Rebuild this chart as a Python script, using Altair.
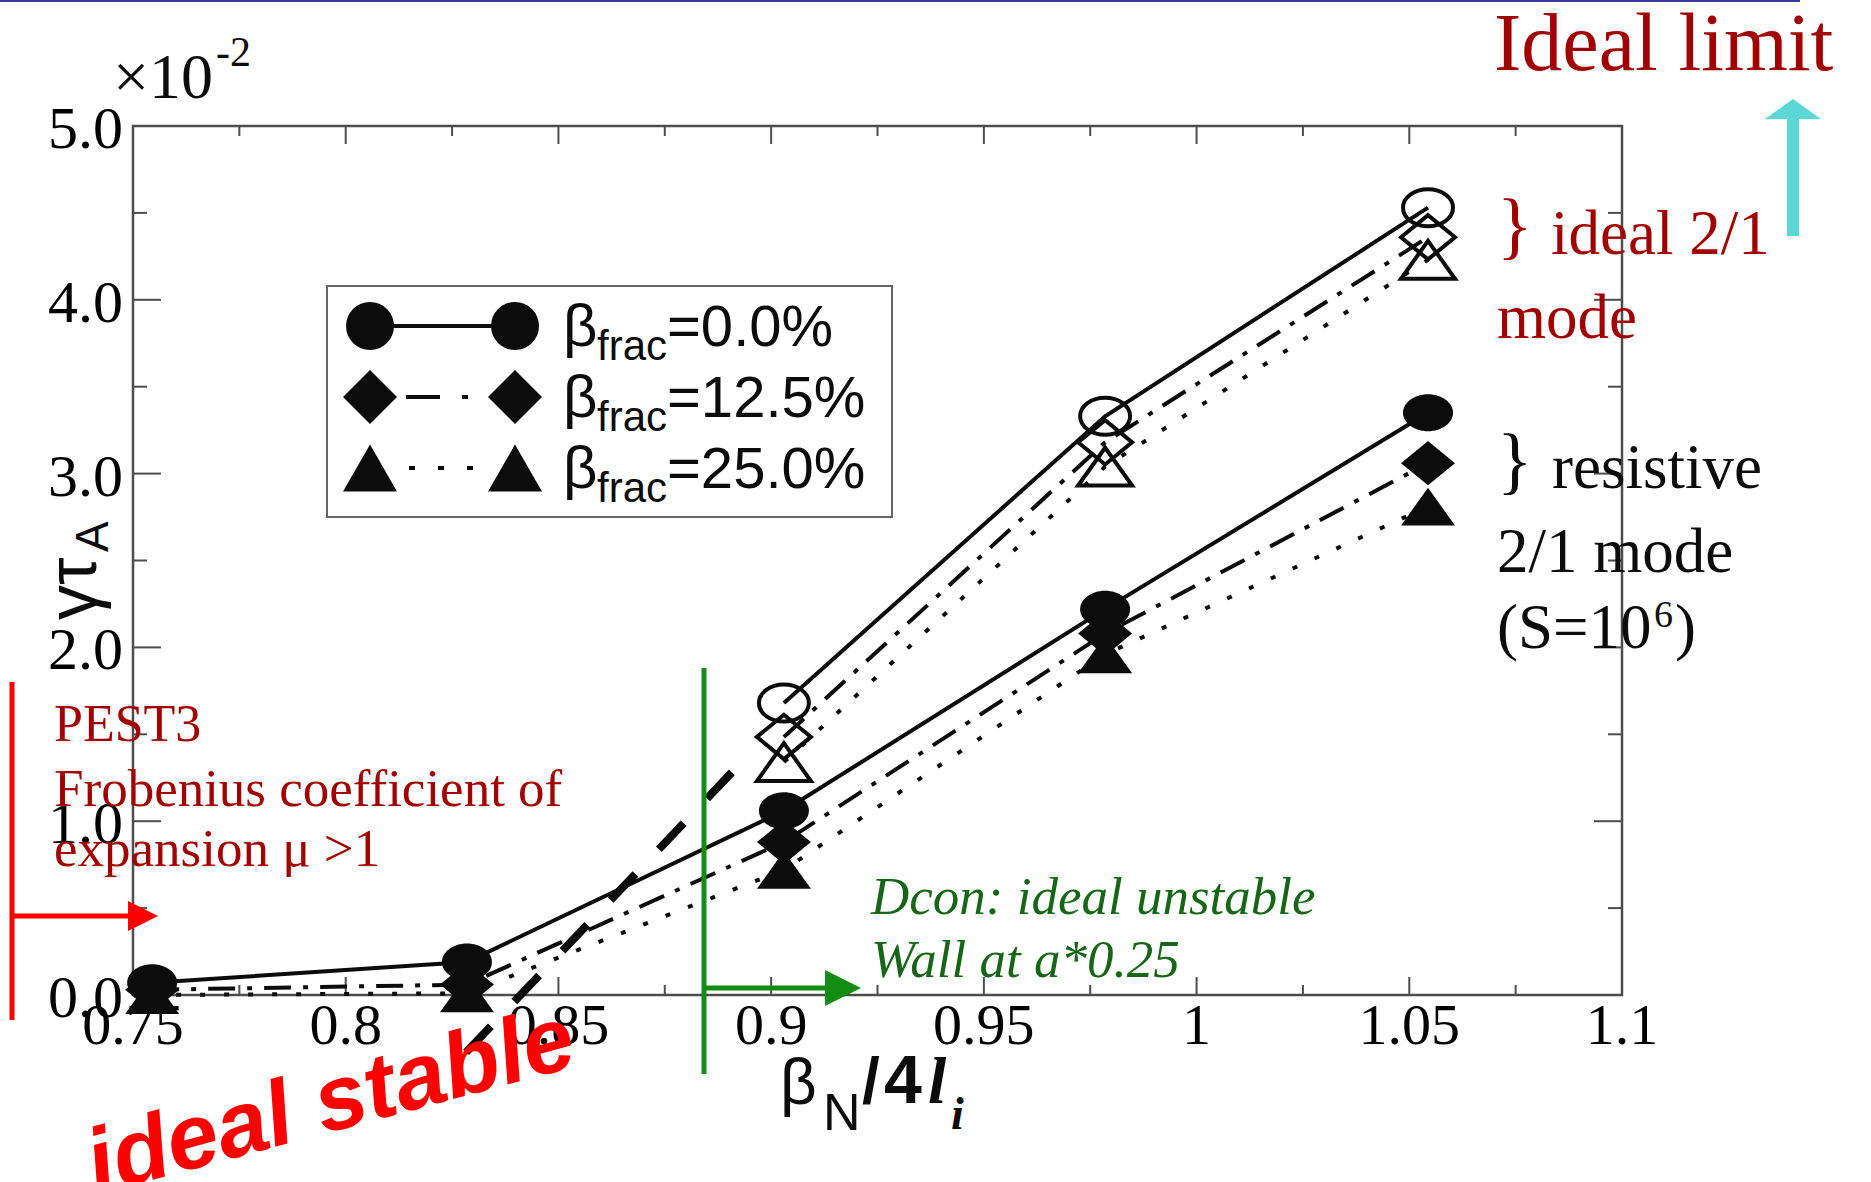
import altair as alt
import pandas as pd

# ---------------------------------------------------------------------------
# Growth rate gamma*tau_A (units of 1e-2) versus beta_N / 4 l_i
# ---------------------------------------------------------------------------
FRACTIONS = ["0.0%", "12.5%", "25.0%"]

# resistive 2/1 mode (S = 1e6), filled symbols
BETA_RESISTIVE = [0.7545, 0.8285, 0.903, 0.9785, 1.0544]
RESISTIVE_00 = [0.07, 0.19, 1.06, 2.22, 3.35]
RESISTIVE_125 = [0.03, 0.06, 0.88, 2.08, 3.06]
RESISTIVE_25 = [0.00, 0.01, 0.72, 1.96, 2.81]

# ideal 2/1 mode, open symbols
BETA_IDEAL = [0.903, 0.9785, 1.0544]
IDEAL_00 = [1.68, 3.33, 4.53]
IDEAL_125 = [1.485, 3.18, 4.36]
IDEAL_25 = [1.34, 3.04, 4.23]

# extrapolation of the ideal growth rate towards marginal stability
EXTRAP_BETA = [0.8283, 0.8915]
EXTRAP_GAMMA = [-0.33, 1.30]

X_MAJOR = [0.75, 0.8, 0.85, 0.9, 0.95, 1.0, 1.05, 1.1]
X_MINOR = [0.775, 0.825, 0.875, 0.925, 0.975, 1.025, 1.075]
Y_MAJOR = [0, 1, 2, 3, 4, 5]
Y_MINOR = [0.5, 1.5, 2.5, 3.5, 4.5]

# ---------------------------------------------------------------------------
# layout and style
# ---------------------------------------------------------------------------
W, H = 1489, 869          # plot area
OX, OY = 133, 126         # plot origin on the page
SERIF = "Liberation Serif"
SANS = "Liberation Sans"
INK = "#0b0c0b"
FRAME = "#4d4d4d"
DARK_RED = "#a00000"

XS = alt.Scale(domain=[0.75, 1.1], nice=False, zero=False)
YS = alt.Scale(domain=[0, 5], nice=False, zero=False)

ELLIPSE = ("M1,0C1,0.409 0.552,0.74 0,0.74C-0.552,0.74 -1,0.409 -1,0"
           "C-1,-0.409 -0.552,-0.74 0,-0.74C0.552,-0.74 1,-0.409 1,0Z")
DIAMOND = "M-1,0L0,-0.82L1,0L0,0.82Z"
TRIANGLE = "M0,-0.7L1,0.7L-1,0.7Z"
ARROW_RIGHT = "M-1,-1L1,0L-1,1Z"
ARROW_UP = "M0,-0.36L1,0.36L-1,0.36Z"

STYLE = {
    "0.0%": dict(dash=None, shape=ELLIPSE, size=2500, legend_shape="circle", legend_size=2304),
    "12.5%": dict(dash=[27, 12, 5, 12], shape=DIAMOND, size=2916, legend_shape="diamond", legend_size=2916),
    "25.0%": dict(dash=[5, 19], shape=TRIANGLE, size=2916, legend_shape="triangle-up", legend_size=2916),
}

RESISTIVE = dict(zip(FRACTIONS, [RESISTIVE_00, RESISTIVE_125, RESISTIVE_25]))
IDEAL = dict(zip(FRACTIONS, [IDEAL_00, IDEAL_125, IDEAL_25]))

ONE = pd.DataFrame({"k": [0]})


def qx(field):
    return alt.X(f"{field}:Q", scale=XS, axis=None)


def qy(field):
    return alt.Y(f"{field}:Q", scale=YS, axis=None)


def series_line(xs, ys, dash, width=4):
    d = pd.DataFrame({"beta": xs, "gamma": ys})
    kw = dict(color=INK, strokeWidth=width, clip=False)
    if dash:
        kw["strokeDash"] = dash
    return alt.Chart(d).mark_line(**kw).encode(x=qx("beta"), y=qy("gamma"))


def series_points(xs, ys, shape, size, filled):
    d = pd.DataFrame({"beta": xs, "gamma": ys})
    kw = dict(shape=shape, size=size, filled=filled, color=INK, opacity=1)
    if not filled:
        kw["strokeWidth"] = 4
    return alt.Chart(d).mark_point(**kw).encode(x=qx("beta"), y=qy("gamma"))


def label(text, x, y, size, font=SERIF, color=INK, align="left",
          baseline="alphabetic", **kw):
    return alt.Chart(ONE).mark_text(
        text=text, fontSize=size, font=font, color=color,
        align=align, baseline=baseline, **kw
    ).encode(x=alt.value(x - OX), y=alt.value(y - OY))


def seg(x1, y1, x2, y2, color, width, dash=None):
    kw = dict(color=color, strokeWidth=width)
    if dash:
        kw["strokeDash"] = dash
    return alt.Chart(ONE).mark_rule(**kw).encode(
        x=alt.value(x1 - OX), y=alt.value(y1 - OY),
        x2=alt.value(x2 - OX), y2=alt.value(y2 - OY),
    )


def symbol(shape, x, y, size, color=INK):
    return alt.Chart(ONE).mark_point(
        shape=shape, size=size, filled=True, color=color, opacity=1
    ).encode(x=alt.value(x - OX), y=alt.value(y - OY))


layers = []

# ---- inward ticks on all four sides ----
xmaj = pd.DataFrame({"v": X_MAJOR})
xmin = pd.DataFrame({"v": X_MINOR})
ymaj = pd.DataFrame({"v": Y_MAJOR})
ymin = pd.DataFrame({"v": Y_MINOR})
tick = dict(color=FRAME, strokeWidth=2)

layers += [
    alt.Chart(xmaj).mark_rule(**tick).encode(x=qx("v"), y=alt.value(H), y2=alt.value(H - 18)),
    alt.Chart(xmaj).mark_rule(**tick).encode(x=qx("v"), y=alt.value(0), y2=alt.value(18)),
    alt.Chart(xmin).mark_rule(**tick).encode(x=qx("v"), y=alt.value(H), y2=alt.value(H - 10)),
    alt.Chart(xmin).mark_rule(**tick).encode(x=qx("v"), y=alt.value(0), y2=alt.value(10)),
    alt.Chart(ymaj).mark_rule(**tick).encode(y=qy("v"), x=alt.value(0), x2=alt.value(28)),
    alt.Chart(ymaj).mark_rule(**tick).encode(y=qy("v"), x=alt.value(W), x2=alt.value(W - 28)),
    alt.Chart(ymin).mark_rule(**tick).encode(y=qy("v"), x=alt.value(0), x2=alt.value(14)),
    alt.Chart(ymin).mark_rule(**tick).encode(y=qy("v"), x=alt.value(W), x2=alt.value(W - 14)),
]

# ---- tick labels ----
layers += [
    alt.Chart(xmaj).mark_text(font=SERIF, fontSize=58, color="black", align="center",
                              baseline="alphabetic").encode(
        x=qx("v"), y=alt.value(H + 49), text=alt.Text("v:Q", format="~g")),
    alt.Chart(ymaj).mark_text(font=SERIF, fontSize=60, color="black", align="right",
                              baseline="middle", dy=4).encode(
        y=qy("v"), x=alt.value(-10), text=alt.Text("v:Q", format=".1f")),
]

# ---- data curves ----
for frac in FRACTIONS:
    st = STYLE[frac]
    layers.append(series_line(BETA_RESISTIVE, RESISTIVE[frac], st["dash"]))
    layers.append(series_line(BETA_IDEAL, IDEAL[frac], st["dash"]))

layers.append(series_line(EXTRAP_BETA, EXTRAP_GAMMA, [36, 34], width=8))

for frac in FRACTIONS:
    st = STYLE[frac]
    layers.append(series_points(BETA_RESISTIVE, RESISTIVE[frac], st["shape"], st["size"], True))
    layers.append(series_points(BETA_IDEAL, IDEAL[frac], st["shape"], st["size"], False))

# ---- legend ----
layers.append(
    alt.Chart(ONE).mark_rect(fill="white", stroke="#666666", strokeWidth=2).encode(
        x=alt.value(327 - OX), x2=alt.value(892 - OX),
        y=alt.value(286 - OY), y2=alt.value(517 - OY))
)
legend_lines = {
    "0.0%": (370, 515, None),
    "12.5%": (406, 490, [34, 22, 6, 22]),
    "25.0%": (409, 482, [6, 23]),
}
for i, frac in enumerate(FRACTIONS):
    st = STYLE[frac]
    row = 326 + 71 * i
    base = 346 + 71 * i
    x1, x2, dash = legend_lines[frac]
    layers.append(seg(x1, row, x2, row, INK, 4, dash))
    layers.append(symbol(st["legend_shape"], 370, row, st["legend_size"]))
    layers.append(symbol(st["legend_shape"], 515, row, st["legend_size"]))
    layers.append(label("β", 563, base, 60, SANS))
    layers.append(label("frac", 597, base + 14, 42, SANS))
    layers.append(label("=" + frac, 667, base, 58, SANS))

# ---- axis titles and exponent ----
layers += [
    label("×10", 113, 98, 64),
    label("-2", 216, 66, 42),
    label("γτ", 96, 620, 70, SANS, angle=270),
    label("A", 108, 552, 46, SANS, angle=270),
    label("β", 780, 1104, 64, SANS),
    label("N", 823, 1130, 52, SANS),
    label("/", 862, 1103, 64, SANS, fontWeight="bold"),
    label("4", 884, 1103, 68, SANS, fontWeight="bold"),
    label("l", 928, 1103, 66, SERIF, fontWeight="bold", fontStyle="italic"),
    label("i", 951, 1129, 46, SERIF, fontWeight="bold", fontStyle="italic"),
]

# ---- annotations ----
layers += [
    seg(0, 1, 1800, 1, "#3b3ba0", 2),
    # ideal limit
    label("Ideal limit", 1494, 70, 82, color=DARK_RED),
    seg(1793, 119, 1793, 236, "#5dd6d6", 12),
    symbol(ARROW_UP, 1793, 109, 3136, "#5dd6d6"),
    label("}", 1497, 250, 74, color=DARK_RED),
    label("ideal 2/1", 1551, 254, 63, color=DARK_RED),
    label("mode", 1497, 338, 63, color=DARK_RED),
    label("}", 1497, 485, 74),
    label("resistive", 1552, 488, 63),
    label("2/1 mode", 1497, 572, 63),
    label("(S=10", 1497, 648, 63),
    label("6", 1654, 627, 38),
    label(")", 1675, 648, 63),
    # PEST3 threshold
    seg(12, 682, 12, 1020, "#ff0000", 5),
    seg(12, 916, 132, 916, "#ff0000", 5),
    symbol(ARROW_RIGHT, 143, 916, 900, "#ff0000"),
    label("PEST3", 54, 741, 52, color=DARK_RED),
    label("Frobenius coefficient of", 54, 806, 53, color=DARK_RED),
    label("expansion μ >1", 54, 866, 53, color=DARK_RED),
    # DCON threshold
    seg(704, 668, 704, 1074, "#128c12", 5),
    seg(704, 988, 830, 988, "#128c12", 5),
    symbol(ARROW_RIGHT, 843, 988, 1296, "#128c12"),
    label("Dcon: ideal unstable", 871, 914, 53, color="#176617", fontStyle="italic"),
    label("Wall at a*0.25", 871, 977, 53, color="#176617", fontStyle="italic"),
    # ideal-stable region
    label("ideal stable", 338, 1130, 92, font=SANS, color="#ff0000",
          align="center", angle=345, fontWeight="bold", fontStyle="italic"),
]

chart = alt.layer(*layers).properties(
    width=W,
    height=H,
    autosize=alt.AutoSizeParams(type="none"),
    padding={"left": OX, "top": OY, "right": 1871 - OX - W, "bottom": 1182 - OY - H},
    background="white",
).configure_view(stroke=FRAME, strokeWidth=2.5)

chart.save("out.html", embed_options={"renderer": "svg", "actions": False})
